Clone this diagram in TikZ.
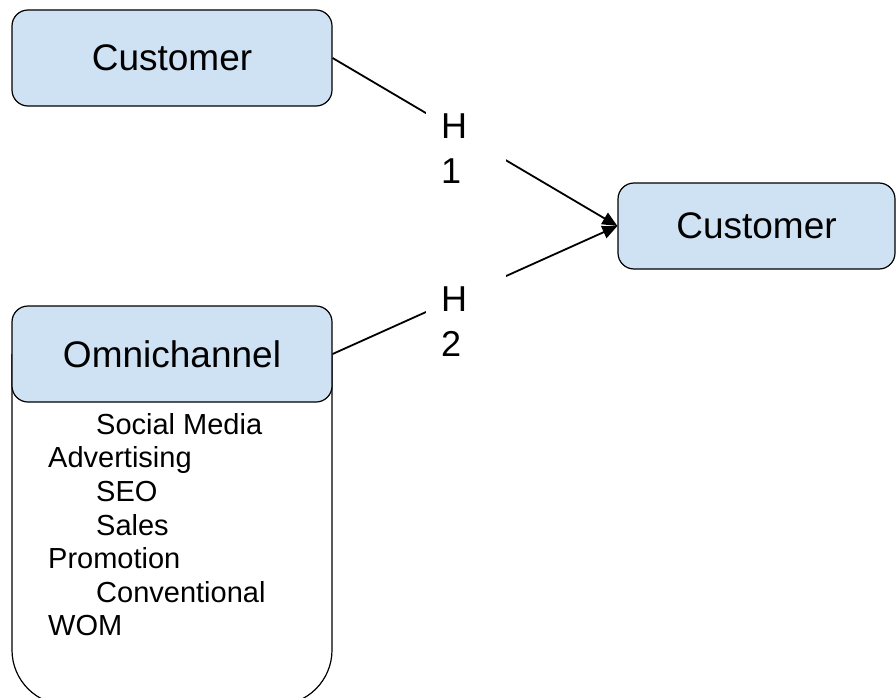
\documentclass[tikz,border=0pt]{standalone}
\usepackage{fontspec}
\setmainfont{Liberation Sans}
\usetikzlibrary{arrows.meta}
\definecolor{boxblue}{HTML}{CFE2F3}

\begin{document}
\begin{tikzpicture}[x=1pt, y=-1pt]
\tikzstyle{box} = [rectangle, rounded corners=16pt, draw=black, line width=1.2pt, fill=boxblue, minimum width=320pt, minimum height=96pt, font=\fontsize{37}{44}\selectfont]
\tikzstyle{body} = [draw=black, line width=1.2pt, fill=white, rounded corners=55pt]
\tikzstyle{e} = [draw=black, line width=1.8pt, -{Triangle[length=15pt, width=13pt]}]
\tikzstyle{lbl} = [fill=white, minimum width=80pt, text width=50pt, inner xsep=15pt, inner ysep=0pt, align=left, font=\fontsize{36}{45}\selectfont]
\tikzstyle{list} = [inner sep=0pt, align=left, anchor=north west, font=\fontsize{29}{33.6}\selectfont]

\useasboundingbox (0, 0) rectangle (896, 698);

% channel panel below the header, running past the lower edge
\draw[body] (12, 354) -- (12, 705) -- (332, 705) -- (332, 354);

\node[box] (C1) at (172, 58) {Customer};
\node[box] (O) at (172, 354) {Omnichannel};
\node[box, minimum width=277pt, minimum height=86pt] (C2) at (756.5, 226) {Customer};

\node[list] (L) at (48, 413) {\hspace*{48pt}Social Media\\Advertising\\\hspace*{48pt}SEO\\\hspace*{48pt}Sales\\Promotion\\\hspace*{48pt}Conventional\\WOM};

\draw[e] (C1.east) to (C2.west);
\draw[e] (O.east) to (C2.west);

\node[lbl, minimum height=84pt] (H1) at (466, 149) {H\\1};
\node[lbl, minimum height=96pt] (H2) at (466, 322) {H\\2};
\end{tikzpicture}
\end{document}
